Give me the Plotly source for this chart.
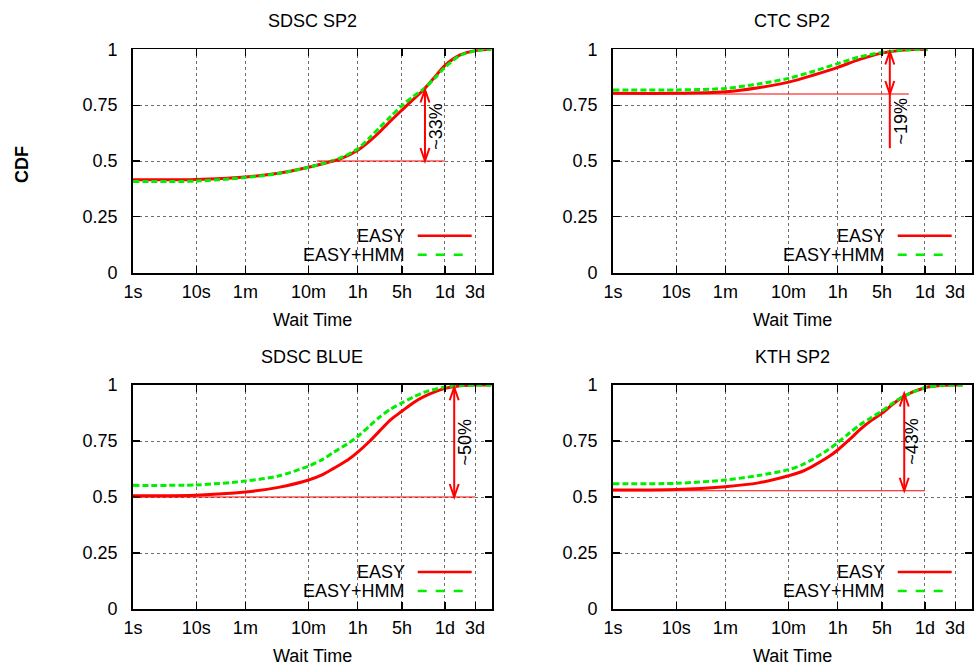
import numpy as np
import plotly.graph_objects as go

W, H = 974, 669

# ---------------- data ----------------
panel_titles = ["SDSC SP2", "CTC SP2", "SDSC BLUE", "KTH SP2"]
series_names = ["EASY", "EASY+HMM"]
x_tick_vals = [1, 10, 60, 600, 3600, 18000, 86400, 259200]
x_tick_text = ["1s", "10s", "1m", "10m", "1h", "5h", "1d", "3d"]
y_tick_vals = [0, 0.25, 0.5, 0.75, 1]
y_tick_text = ["0", "0.25", "0.5", "0.75", "1"]

# wait time (seconds) and CDF values
sdsc_sp2_wait = [1, 10, 60, 200, 600, 1200, 2000, 3600, 5600, 8000, 12000, 18000, 27000, 40000, 60000, 86400, 150000, 259200, 470000]
sdsc_sp2_easy = [0.416, 0.417, 0.428, 0.445, 0.472, 0.493, 0.512, 0.548, 0.590, 0.630, 0.680, 0.728, 0.775, 0.820, 0.877, 0.928, 0.975, 0.994, 1.0]
sdsc_sp2_hmm = [0.408, 0.410, 0.426, 0.444, 0.472, 0.495, 0.516, 0.555, 0.605, 0.650, 0.700, 0.748, 0.788, 0.823, 0.872, 0.920, 0.972, 0.993, 1.0]

ctc_sp2_wait = [1, 10, 60, 200, 600, 1500, 3600, 8000, 18000, 40000, 95000]
ctc_sp2_easy = [0.803, 0.803, 0.810, 0.828, 0.853, 0.885, 0.919, 0.955, 0.983, 0.997, 1.0]
ctc_sp2_hmm = [0.818, 0.818, 0.825, 0.845, 0.870, 0.902, 0.936, 0.966, 0.986, 0.997, 1.0]

sdsc_blue_wait = [1, 10, 60, 200, 600, 1000, 1500, 2500, 3600, 5600, 8000, 12000, 18000, 27000, 40000, 86400, 150000, 259200, 470000]
sdsc_blue_easy = [0.506, 0.508, 0.522, 0.543, 0.576, 0.600, 0.628, 0.665, 0.700, 0.750, 0.795, 0.845, 0.883, 0.920, 0.948, 0.985, 0.997, 1.0, 1.0]
sdsc_blue_hmm = [0.552, 0.554, 0.571, 0.594, 0.638, 0.668, 0.700, 0.738, 0.770, 0.818, 0.857, 0.893, 0.920, 0.946, 0.967, 0.991, 0.998, 1.0, 1.0]

kth_sp2_wait = [1, 10, 60, 200, 600, 1000, 1500, 2500, 3600, 5600, 8000, 12000, 18000, 27000, 40000, 86400, 150000, 259200, 340000]
kth_sp2_easy = [0.531, 0.533, 0.546, 0.563, 0.595, 0.615, 0.640, 0.677, 0.710, 0.758, 0.800, 0.840, 0.874, 0.915, 0.950, 0.988, 0.998, 1.0, 1.0]
kth_sp2_hmm = [0.559, 0.561, 0.576, 0.596, 0.622, 0.645, 0.671, 0.710, 0.743, 0.787, 0.821, 0.853, 0.884, 0.920, 0.950, 0.988, 0.998, 1.0, 1.0]

panel_wait = [sdsc_sp2_wait, ctc_sp2_wait, sdsc_blue_wait, kth_sp2_wait]
panel_easy = [sdsc_sp2_easy, ctc_sp2_easy, sdsc_blue_easy, kth_sp2_easy]
panel_hmm = [sdsc_sp2_hmm, ctc_sp2_hmm, sdsc_blue_hmm, kth_sp2_hmm]

# gap annotations
gap_labels = ["~33%", "~19%", "~50%", "~43%"]
gap_x = [41700, 24000, 121000, 40600]
gap_low = [0.5, 0.80, 0.5, 0.528]
gap_high = [0.82, 0.99, 0.99, 0.962]
gap_stem_low = [0.5, 0.557, 0.5, 0.528]
base_y = [0.5, 0.80, 0.5, 0.528]
base_x0 = [815, 1, 1, 1]
base_x1 = [86400, 48000, 259200, 86400]
label_x = [62000, 36000, 182000, 54000]
label_y = [0.657, 0.681, 0.745, 0.747]

# ---------------- layout geometry (pixels) ----------------
col_left = [133, 613]
col_right = [491.7, 971.7]
row_top = [49.3, 385]
row_bottom = [272.7, 609]
x_range = [0, 5.676]

RED = "#ff0000"
GREEN = "#00ee00"
FONT = "Liberation Sans, Arial, sans-serif"
FS = 18


def px(x):
    return x / W


def py(y):
    return 1 - y / H


def text_font():
    return dict(family=FONT, size=FS, color="#000")


fig = go.Figure()
annotations = []
shapes = []

for i in range(4):
    r, c = divmod(i, 2)
    xa = "x" if i == 0 else f"x{i+1}"
    ya = "y" if i == 0 else f"y{i+1}"
    xk = "xaxis" if i == 0 else f"xaxis{i+1}"
    yk = "yaxis" if i == 0 else f"yaxis{i+1}"

    fig.add_trace(go.Scatter(
        x=panel_wait[i], y=panel_easy[i], mode="lines", name=series_names[0],
        line=dict(color=RED, width=3, shape="spline", smoothing=0.8),
        xaxis=xa, yaxis=ya, showlegend=False, hoverinfo="skip"))
    fig.add_trace(go.Scatter(
        x=panel_wait[i], y=panel_hmm[i], mode="lines", name=series_names[1],
        line=dict(color=GREEN, width=3, dash="6px,3px", shape="spline", smoothing=0.8),
        xaxis=xa, yaxis=ya, showlegend=False, hoverinfo="skip"))

    axis_common = dict(
        showline=True, linecolor="#000", linewidth=1.8, mirror="ticks",
        ticks="inside", ticklen=7, tickcolor="#000", tickwidth=1.2,
        showgrid=True, gridcolor="#6e6e6e", gridwidth=1, griddash="dot",
        zeroline=False, automargin=False, tickfont=text_font(),
    )
    fig.update_layout(**{
        xk: dict(axis_common, type="log", range=x_range,
                 domain=[px(col_left[c]), px(col_right[c])],
                 tickvals=x_tick_vals, ticktext=x_tick_text, anchor=ya,
                 ticklabelstandoff=2),
        yk: dict(axis_common, range=[0, 1],
                 domain=[py(row_bottom[r]), py(row_top[r])],
                 tickvals=y_tick_vals, ticktext=y_tick_text, anchor=xa,
                 ticklabelstandoff=10),
    })

    # base horizontal line
    shapes.append(dict(type="line", xref=xa, yref=ya, x0=base_x0[i], x1=base_x1[i],
                       y0=base_y[i], y1=base_y[i], line=dict(color=RED, width=1.2),
                       layer="above"))
    # arrow stem
    shapes.append(dict(type="line", xref=xa, yref=ya, x0=gap_x[i], x1=gap_x[i],
                       y0=gap_stem_low[i], y1=gap_high[i], line=dict(color=RED, width=2),
                       layer="above"))
    # arrow heads (open V)
    for tip, sgn in ((gap_high[i], -1), (gap_low[i], 1)):
        shapes.append(dict(type="path", xref=xa, yref=ya,
                           xsizemode="pixel", ysizemode="pixel",
                           xanchor=gap_x[i], yanchor=tip,
                           path=f"M -4.5,{sgn*13} L 0,0 L 4.5,{sgn*13}",
                           line=dict(color=RED, width=2), layer="above"))
    annotations.append(dict(x=np.log10(label_x[i]), y=label_y[i], xref=xa, yref=ya,
                            xanchor="center", yanchor="middle",
                            text=gap_labels[i], textangle=-90, showarrow=False,
                            font=text_font()))

    # panel title & x title
    cx = (col_left[c] + col_right[c]) / 2
    annotations.append(dict(x=px(cx), y=py(row_top[r] - 28), xref="paper", yref="paper",
                            xanchor="center", yanchor="middle",
                            text=panel_titles[i], showarrow=False, font=text_font()))
    annotations.append(dict(x=px(cx), y=py(row_bottom[r] + 47), xref="paper", yref="paper",
                            xanchor="center", yanchor="middle",
                            text="Wait Time", showarrow=False, font=text_font()))

    # manual key (gnuplot style: text then sample)
    xr, yb = col_right[c], row_bottom[r]
    shapes.append(dict(type="rect", xref="paper", yref="paper",
                       x0=px(xr - 160), x1=px(xr - 8), y0=py(yb - 1.5), y1=py(yb - 48),
                       fillcolor="white", line=dict(width=0), layer="between"))
    for nm, col, dash, dy in ((series_names[0], RED, "solid", 37),
                              (series_names[1], GREEN, "dash", 18)):
        annotations.append(dict(x=px(xr - 85), y=py(yb - dy), xref="paper", yref="paper",
                                text=nm, showarrow=False, xanchor="right", yanchor="middle",
                                font=text_font()))
        shapes.append(dict(type="line", xref="paper", yref="paper",
                           x0=px(xr - 74), x1=px(xr - 20), y0=py(yb - dy), y1=py(yb - dy),
                           line=dict(color=col, width=2.5, dash=dash), layer="above"))

annotations.append(dict(x=px(22), y=py(165), xref="paper", yref="paper", text="<b>CDF</b>",
                        xanchor="center", yanchor="middle",
                        textangle=-90, showarrow=False, font=text_font()))

fig.update_layout(
    template="none",
    width=W, height=H, margin=dict(l=0, r=0, t=0, b=0, pad=0, autoexpand=False),
    paper_bgcolor="white", plot_bgcolor="white", hovermode=False,
    annotations=annotations, shapes=shapes, showlegend=False,
)

fig.write_html("out.html", config={"displayModeBar": False, "staticPlot": True},
               post_script="document.body.style.margin='0';document.body.style.padding='0';")
